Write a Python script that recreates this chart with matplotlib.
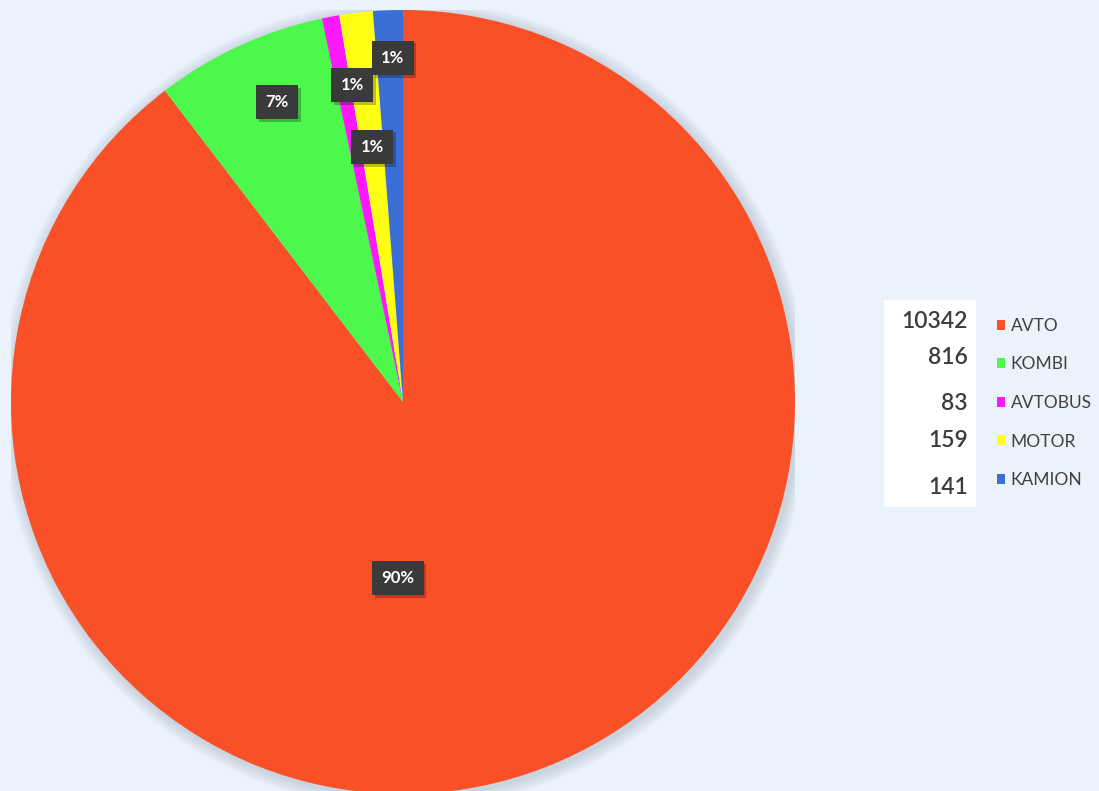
import matplotlib
matplotlib.use("Agg")
from matplotlib import pyplot as plt
from matplotlib.patches import Circle, Rectangle, Patch
import matplotlib.patheffects as pe

plt.rcParams['font.family'] = ['Lato', 'DejaVu Sans']

categories = ['AVTO', 'KOMBI', 'AVTOBUS', 'MOTOR', 'KAMION']
counts = [10342, 816, 83, 159, 141]
colors = ['#f95027', '#4cf84c', '#fb19fb', '#ffff14', '#3b6fd6']

# where each percentage tag sits, as (x, y) in pie radius units
label_pos = [(-0.013, -0.449), (-0.321, 0.765), (-0.130, 0.809),
             (-0.079, 0.651), (-0.026, 0.878)]

bg = '#eaf3fc'
fig = plt.figure(figsize=(10.99, 7.91), dpi=100, facecolor=bg)

ax = fig.add_axes([11 / 1099, -3 / 791, 784 / 1099, 784 / 791])

# soft shadow behind the pie
for i in range(8):
    ax.add_patch(Circle((0.006, -0.006), 1.0 + 0.004 * (8 - i), color='#8a96a6',
                        alpha=0.045, lw=0, zorder=0))

wedges, _ = ax.pie(counts, colors=colors, startangle=90, counterclock=False,
                   radius=1.0, wedgeprops=dict(linewidth=0))
for w in wedges:
    w.set_zorder(1)

ax.set_xlim(-1, 1)
ax.set_ylim(-1, 1)
ax.set_aspect('equal')
ax.axis('off')

total = sum(counts)
for v, (x, y) in zip(counts, label_pos):
    pct = f'{round(100 * v / total):.0f}%'
    t = ax.text(x, y, pct, ha='center', va='center', fontsize=12, fontweight='bold',
                color='white', zorder=3,
                bbox=dict(boxstyle='square,pad=0.55', fc='#3a3a3a', ec='none'))
    t.get_bbox_patch().set_path_effects([
        pe.withSimplePatchShadow(offset=(2, -2), shadow_rgbFace='black', alpha=0.25)])

# white panel with counts
fig.patches.append(Rectangle((884 / 1099, 1 - 507 / 791), 92 / 1099, 207 / 791,
                             transform=fig.transFigure, fc='white', ec='none'))
row_y = [322, 358, 404, 440, 487]
for v, y in zip(counts, row_y):
    fig.text(968 / 1099, 1 - y / 791, str(v), ha='right', va='center',
             fontsize=16.5, fontweight='semibold', color='#3c3c3c')

handles = [Patch(facecolor=c, edgecolor='none') for c in colors]
fig.legend(handles, categories, loc='center left', bbox_to_anchor=(988 / 1099, 1 - 403 / 791),
           frameon=False, fontsize=12.5, labelcolor='#404040', handlelength=0.5,
           handleheight=0.5, handletextpad=0.3, labelspacing=1.3, borderpad=0)

fig.savefig('out.png', dpi=100, facecolor=bg)
